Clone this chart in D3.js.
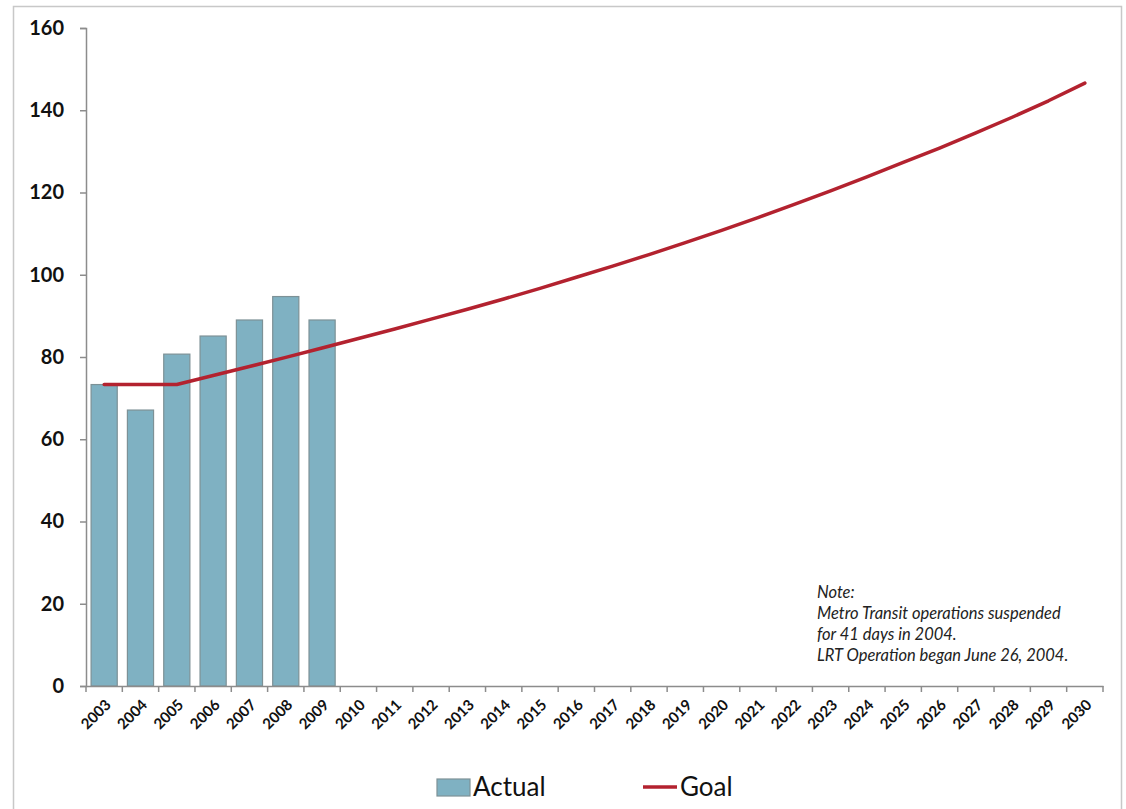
<!DOCTYPE html>
<html><head><meta charset="utf-8">
<script src="https://cdn.jsdelivr.net/npm/d3@7"></script>
<style>body{margin:0;background:#fff;} svg{display:block;}</style>
</head><body>
<svg id="c" width="1126" height="809"></svg>
<script>
const years = ["2003","2004","2005","2006","2007","2008","2009","2010","2011","2012","2013","2014","2015","2016","2017","2018","2019","2020","2021","2022","2023","2024","2025","2026","2027","2028","2029","2030"];
const actualYears = ["2003","2004","2005","2006","2007","2008","2009"];
const actualValues = [73.3, 67.1, 80.7, 85.1, 89.0, 94.7, 89.0];
const goalValues = [73.3, 73.3, 73.3, 75.5, 77.7, 79.9, 82.2, 84.5, 86.8, 89.2, 91.6, 94.1, 96.7, 99.4, 102.1, 104.9, 107.8, 110.8, 113.9, 117.1, 120.4, 123.8, 127.3, 130.8, 134.5, 138.3, 142.3, 146.6];
const yTicks = [0, 20, 40, 60, 80, 100, 120, 140, 160];
const noteLines = ["Note:", "Metro Transit operations suspended", "for 41 days in 2004.", "LRT Operation began June 26, 2004."];
const legendLabels = ["Actual", "Goal"];

const svg = d3.select("#c");
const font = "Lato, 'Open Sans', sans-serif";

// outer frame
svg.append("rect").attr("x",13.5).attr("y",6.5).attr("width",1108).attr("height",820)
  .attr("fill","none").attr("stroke","#c8c8c8").attr("stroke-width",1.5);

const x0 = 86, x1 = 1103, yTop = 28, yBot = 686;
const x = d3.scaleBand().domain(years).range([x0, x1]).paddingInner(0.28).paddingOuter(0.14);
const xTick = d3.scaleBand().domain(years).range([x0, x1]);
const y = d3.scaleLinear().domain([0,160]).range([yBot, yTop]);

// bars
svg.append("g").selectAll("rect").data(actualYears).join("rect")
  .attr("x", d => x(d)).attr("width", x.bandwidth())
  .attr("y", (d,i) => y(actualValues[i])).attr("height", (d,i) => yBot - y(actualValues[i]))
  .attr("fill","#7fb1c2").attr("stroke","#7d9196").attr("stroke-width",1.2);

// y axis
const yAxis = svg.append("g").attr("transform",`translate(${x0},0)`)
  .call(d3.axisLeft(y).tickValues(yTicks).tickSize(6).tickPadding(16));
yAxis.select(".domain").attr("stroke","#8c8c8c").attr("stroke-width",1.5);
yAxis.selectAll(".tick line").attr("stroke","#8c8c8c").attr("stroke-width",1.5);
yAxis.selectAll(".tick text").attr("font-family",font).attr("font-weight","bold")
  .attr("font-size",20).attr("fill","#111");

// x axis
const xAxis = svg.append("g").attr("transform",`translate(0,${yBot})`)
  .call(d3.axisBottom(xTick).tickSize(0).tickFormat(""));
xAxis.select(".domain").attr("stroke","#8c8c8c").attr("stroke-width",1.5);
// tick marks at band boundaries
const bounds = years.map(d => xTick(d)).concat([xTick(years[years.length-1]) + xTick.bandwidth()]);
svg.append("g").selectAll("line").data(bounds).join("line")
  .attr("x1", d => d).attr("x2", d => d).attr("y1", yBot).attr("y2", yBot + 6)
  .attr("stroke","#8c8c8c").attr("stroke-width",1.5);
// x labels
svg.append("g").selectAll("text").data(years).join("text")
  .attr("transform", d => `translate(${xTick(d) + xTick.bandwidth()/2 + 5},${yBot + 17}) rotate(-45)`)
  .attr("text-anchor","end").attr("dominant-baseline","middle")
  .attr("font-family",font).attr("font-weight","bold").attr("font-size",15).attr("fill","#111")
  .text(d => d);

// goal line
const line = d3.line().x((d,i) => xTick(years[i]) + xTick.bandwidth()/2).y(d => y(d));
svg.append("path").datum(goalValues).attr("d", line)
  .attr("fill","none").attr("stroke","#b3222f").attr("stroke-width",3.5)
  .attr("stroke-linecap","round").attr("stroke-linejoin","round");

// note
svg.append("g").selectAll("text").data(noteLines).join("text")
  .attr("x", 817).attr("y", (d,i) => 598 + i*21)
  .attr("font-family",font).attr("font-style","italic").attr("font-size",16.5).attr("fill","#222")
  .text(d => d);

// legend
const lg = svg.append("g");
lg.append("rect").attr("x",437).attr("y",779).attr("width",33).attr("height",17)
  .attr("fill","#7fb1c2").attr("stroke","#7d9196").attr("stroke-width",1.2);
lg.append("text").attr("x",473).attr("y",796).attr("font-family",font).attr("font-size",26).attr("fill","#111").text(legendLabels[0]);
lg.append("line").attr("x1",643).attr("x2",677).attr("y1",787).attr("y2",787)
  .attr("stroke","#b3222f").attr("stroke-width",3.5);
lg.append("text").attr("x",680).attr("y",796).attr("font-family",font).attr("font-size",26).attr("fill","#111").text(legendLabels[1]);
</script>
</body></html>
